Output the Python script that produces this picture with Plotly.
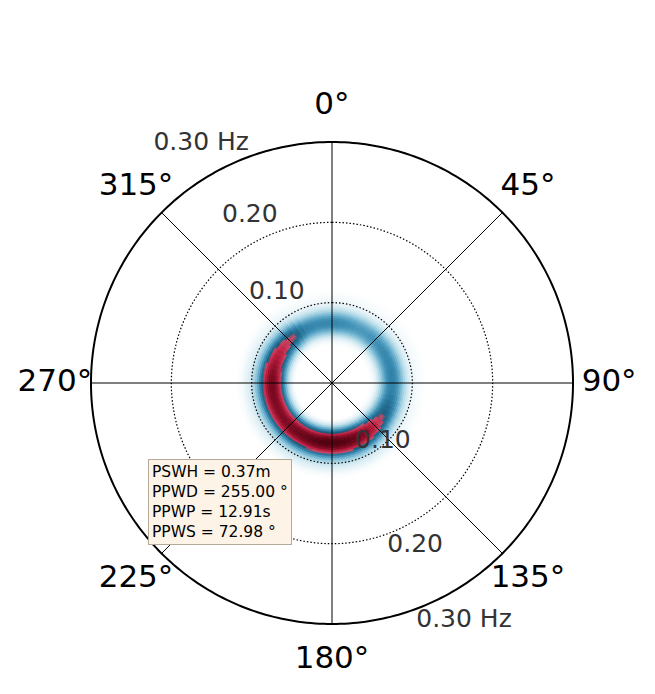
import numpy as np
import plotly.graph_objects as go
from plotly.colors import sample_colorscale

# frequency bins (Hz, bin centres) and the normalised frequency profile
freqs = [0.045, 0.0475, 0.05, 0.0525, 0.055, 0.0575, 0.06, 0.0625, 0.065, 0.0675,
         0.07, 0.0725, 0.075, 0.0775, 0.08, 0.0825, 0.085, 0.0875, 0.09, 0.0925,
         0.095, 0.0975, 0.10, 0.1025, 0.105, 0.1075, 0.11, 0.1125, 0.115, 0.1175, 0.12]
freq_profile = [0.0, 0.01, 0.03, 0.06, 0.11, 0.19, 0.30, 0.44, 0.60, 0.76,
                0.89, 0.97, 1.0, 0.97, 0.89, 0.77, 0.62, 0.47, 0.34, 0.24,
                0.17, 0.12, 0.085, 0.06, 0.045, 0.035, 0.025, 0.015, 0.008, 0.004, 0.0]

# direction bins (deg, compass, 5 deg wide) and the normalised directional profile
dirs = list(range(0, 360, 5))
dir_profile = [0.28, 0.28, 0.27, 0.26, 0.25, 0.24, 0.24, 0.24, 0.25, 0.25,
               0.26, 0.27, 0.28, 0.28, 0.29, 0.29, 0.30, 0.30, 0.30, 0.30,
               0.31, 0.33, 0.36, 0.39, 0.42, 0.46, 0.52, 0.60, 0.68, 0.75,
               0.82, 0.88, 0.92, 0.96, 0.98, 1.00, 1.00, 1.00, 0.99, 0.97,
               0.95, 0.92, 0.90, 0.88, 0.86, 0.84, 0.82, 0.80, 0.80, 0.80,
               0.81, 0.82, 0.83, 0.84, 0.84, 0.82, 0.78, 0.74, 0.70, 0.66,
               0.62, 0.57, 0.52, 0.49, 0.46, 0.40, 0.34, 0.30, 0.29, 0.28,
               0.28, 0.28]

angle_ticks = [0, 45, 90, 135, 180, 225, 270, 315]
angle_labels = ["0°", "45°", "90°", "135°", "180°", "225°", "270°", "315°"]

radial_labels = ["0.10", "0.20", "0.30 Hz", "0.10", "0.20", "0.30 Hz"]
radial_label_r = [0.1315, 0.2316, 0.339, 0.097, 0.228, 0.339]
radial_label_theta = [328.6, 333.8, 331.3, 139.2, 153.0, 151.0]

stats_text = ("PSWH = 0.37m<br>PPWD = 255.00 °<br>"
              "PPWP = 12.91s<br>PPWS = 72.98 °")

df = 0.0025
dth = 5
th, base, val = [], [], []
for i, d in enumerate(dirs):
    for j, f in enumerate(freqs):
        th.append(d)
        base.append(f - df / 2)
        val.append(dir_profile[i] * freq_profile[j])

cscale = [
    [0.00, "#ffffff"],
    [0.03, "#e6f3f8"],
    [0.08, "#b9dde9"],
    [0.16, "#78b9d4"],
    [0.26, "#3b8db4"],
    [0.36, "#226e93"],
    [0.44, "#1a5a7a"],
    [0.45, "#c44866"],
    [0.58, "#c32244"],
    [0.76, "#870b25"],
    [1.00, "#50000f"],
]
cols = sample_colorscale(cscale, val)

fig = go.Figure()
fig.add_trace(go.Barpolar(
    theta=th, r=[df] * len(th), base=base, width=[dth] * len(th),
    marker=dict(color=cols, line=dict(width=0.8, color=cols)),
    hoverinfo="skip", showlegend=False,
))

# dotted rings and outer ring
ring_theta = np.arange(0, 361, 1)
for rr in [0.1, 0.2]:
    fig.add_trace(go.Scatterpolar(
        r=[rr] * len(ring_theta), theta=ring_theta, mode="lines",
        line=dict(color="black", width=1.2, dash="1.5px,2px"),
        hoverinfo="skip", showlegend=False,
    ))
fig.add_trace(go.Scatterpolar(
    r=[0.3] * len(ring_theta), theta=ring_theta, mode="lines",
    line=dict(color="black", width=2),
    hoverinfo="skip", showlegend=False,
))

# spokes
sp_r, sp_t = [], []
for a in [0, 45, 90, 135]:
    sp_r += [0.3, 0.3, None]
    sp_t += [a, a + 180, None]
fig.add_trace(go.Scatterpolar(
    r=sp_r, theta=sp_t, mode="lines", line=dict(color="black", width=1),
    hoverinfo="skip", showlegend=False,
))

fig.add_trace(go.Scatterpolar(
    r=[0.345] * len(angle_ticks), theta=angle_ticks, mode="text", text=angle_labels,
    textfont=dict(size=31, color="black", family="DejaVu Sans"),
    cliponaxis=False, hoverinfo="skip", showlegend=False,
))
fig.add_trace(go.Scatterpolar(
    r=radial_label_r, theta=radial_label_theta, mode="text", text=radial_labels,
    textfont=dict(size=25, color="#333333", family="DejaVu Sans"),
    cliponaxis=False, hoverinfo="skip", showlegend=False,
))

fig.add_annotation(
    x=0.2137, y=0.3501, xref="paper", yref="paper", xanchor="left", yanchor="top",
    text=stats_text, showarrow=False, align="left",
    font=dict(size=15.5, color="black", family="DejaVu Sans"),
    bgcolor="#fdf3e6", bordercolor="#b5aa98", borderwidth=1, borderpad=3,
)

fig.update_layout(
    width=655, height=694,
    margin=dict(l=0, r=0, t=0, b=0),
    paper_bgcolor="white",
    font=dict(family="DejaVu Sans"),
    polar=dict(
        domain=dict(x=[0.0531, 0.9362], y=[0.0429, 0.8764]),
        bgcolor="rgba(0,0,0,0)",
        barmode="overlay", bargap=0,
        radialaxis=dict(range=[0, 0.36], visible=False),
        angularaxis=dict(direction="clockwise", rotation=90, showgrid=False,
                         showticklabels=False, ticks="", showline=False),
    ),
)

fig.write_html("out.html")
